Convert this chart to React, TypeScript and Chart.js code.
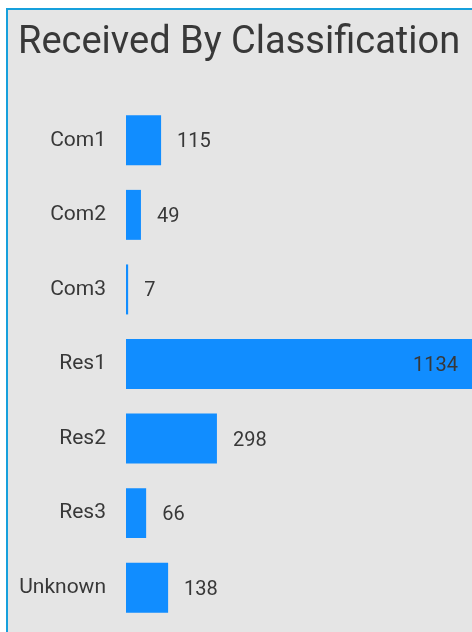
import React, { useEffect, useRef } from "react";
import { Chart, registerables } from "chart.js";

Chart.register(...registerables);

const categories = ["Com1", "Com2", "Com3", "Res1", "Res2", "Res3", "Unknown"];
const receivedValues = [115, 49, 7, 1134, 298, 66, 138];
const chartTitle = "Received By Classification";

const FONT = "Roboto";
const TEXT_COLOR = "#383838";
const BAR_COLOR = "#118dff";

const valueLabelPlugin = {
  id: "valueLabels",
  afterDatasetsDraw(chart: any) {
    const ctx = chart.ctx;
    const meta = chart.getDatasetMeta(0);
    const area = chart.chartArea;
    ctx.save();
    ctx.font = `20px ${FONT}`;
    ctx.fillStyle = TEXT_COLOR;
    ctx.textBaseline = "middle";
    meta.data.forEach((bar: any, i: number) => {
      const text = String(chart.data.datasets[0].data[i]);
      const w = ctx.measureText(text).width;
      if (bar.x + 16 + w > area.right) {
        ctx.textAlign = "right";
        ctx.fillText(text, bar.x - 14, bar.y + 2);
      } else {
        ctx.textAlign = "left";
        ctx.fillText(text, bar.x + 16, bar.y + 2);
      }
    });
    ctx.restore();
  },
};

export default function App() {
  const canvasRef = useRef<HTMLCanvasElement | null>(null);

  useEffect(() => {
    if (!canvasRef.current) return;
    const chart = new Chart(canvasRef.current, {
      type: "bar",
      data: {
        labels: categories,
        datasets: [
          {
            data: receivedValues,
            backgroundColor: BAR_COLOR,
            borderWidth: 0,
            barPercentage: 0.67,
            categoryPercentage: 1,
          },
        ],
      },
      options: {
        indexAxis: "y",
        animation: false,
        responsive: false,
        maintainAspectRatio: false,
        layout: { padding: { left: 10, right: 0, top: 0, bottom: 7 } },
        plugins: {
          legend: { display: false },
          tooltip: { enabled: false },
          title: {
            display: true,
            text: chartTitle,
            align: "start",
            color: TEXT_COLOR,
            font: { family: FONT, size: 38, weight: "normal", lineHeight: 1.2 },
            padding: { top: 11, bottom: 36.4 },
          },
        },
        scales: {
          x: {
            display: false,
            min: 0,
            max: 1134,
          },
          y: {
            grid: { display: false, drawTicks: false },
            border: { display: false },
            ticks: {
              color: TEXT_COLOR,
              padding: 20,
              font: { family: FONT, size: 21 },
            },
            afterFit(scale: any) {
              scale.width = 108;
              scale.paddingTop = 0;
              scale.paddingBottom = 0;
            },
          },
        },
      },
      plugins: [valueLabelPlugin],
    });
    return () => chart.destroy();
  }, []);

  return (
    <div
      style={{
        position: "fixed",
        left: 0,
        top: 0,
        width: 472,
        height: 632,
        background: "#ffffff",
        overflow: "hidden",
      }}
    >
      <div
        style={{
          position: "absolute",
          left: 6,
          top: 8,
          width: 466,
          height: 624,
          boxSizing: "border-box",
          borderLeft: "2px solid #17a0dc",
          borderTop: "2px solid #17a0dc",
          background: "#e5e5e5",
        }}
      >
        <canvas ref={canvasRef} width={464} height={622} style={{ display: "block" }} />
      </div>
    </div>
  );
}
